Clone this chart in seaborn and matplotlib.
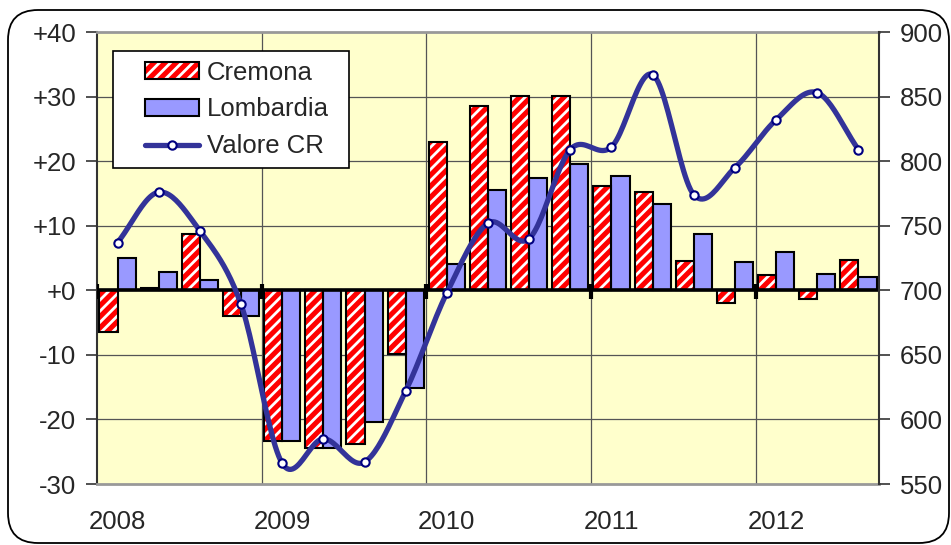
import numpy as np
import pandas as pd
import matplotlib
matplotlib.use('Agg')
import matplotlib.pyplot as plt
import seaborn as sns
from matplotlib.patches import Rectangle, FancyBboxPatch, Patch
from matplotlib.lines import Line2D
from matplotlib.legend_handler import HandlerTuple
from matplotlib.transforms import IdentityTransform

# quarterly data 2008 Q1 .. 2012 Q3
quarters = ['2008-1', '2008-2', '2008-3', '2008-4',
            '2009-1', '2009-2', '2009-3', '2009-4',
            '2010-1', '2010-2', '2010-3', '2010-4',
            '2011-1', '2011-2', '2011-3', '2011-4',
            '2012-1', '2012-2', '2012-3']
cremona = [-6.5, 0.3, 8.7, -4.0, -23.3, -24.5, -23.8, -9.9, 23.0, 28.5,
           30.1, 30.1, 16.1, 15.2, 4.6, -1.9, 2.4, -1.4, 4.7]
lombardia = [5.0, 2.8, 1.6, -4.0, -23.3, -24.5, -20.4, -15.1, 4.0, 15.5,
             17.4, 19.5, 17.7, 13.3, 8.7, 4.4, 5.9, 2.5, 2.1]
valore_cr = [737, 776, 746, 689, 566, 585, 567, 622, 698, 752,
             740, 809, 811, 867, 774, 795, 832, 853, 809]
year_labels = ['2008', '2009', '2010', '2011', '2012']
left_ticks = [-30, -20, -10, 0, 10, 20, 30, 40]
left_labels = ['-30', '-20', '-10', '+0', '+10', '+20', '+30', '+40']
right_ticks = [550, 600, 650, 700, 750, 800, 850, 900]

RED = '#FF0000'
BLUE = '#9999FF'
NAVY = '#333399'
YELLOW = '#FFFFCC'

sns.set_style('white')
plt.rcParams['font.family'] = ['Liberation Sans', 'DejaVu Sans']
plt.rcParams['hatch.color'] = 'white'
plt.rcParams['hatch.linewidth'] = 2.0
FS = 18.5
HATCH = '///'

fig = plt.figure(figsize=(9.51, 5.45), dpi=100)
ax = fig.add_axes([97 / 951, 1 - 484 / 545, 782 / 951, 452 / 545])
ax.set_facecolor(YELLOW)

df = pd.DataFrame({'quarter': quarters * 2,
                   'value': cremona + lombardia,
                   'serie': ['Cremona'] * len(quarters) + ['Lombardia'] * len(quarters)})

sns.barplot(data=df, x='quarter', y='value', hue='serie',
            palette={'Cremona': RED, 'Lombardia': BLUE}, saturation=1,
            width=0.88, edgecolor='black', linewidth=1.5, legend=False, ax=ax)

# Cremona bars: red with white diagonal stripes, black outline on top
for p in ax.containers[0]:
    p.set_edgecolor(None)
    p.set_linewidth(0)
    p.set_hatch(HATCH)
    ax.add_patch(Rectangle(p.get_xy(), p.get_width(), p.get_height(),
                           fill=False, ec='black', lw=1.5, zorder=p.get_zorder() + 0.1))

ax.set_xlim(-0.5, len(quarters) - 0.5)
ax.set_ylim(-30, 40)
ax.set_xlabel('')
ax.set_ylabel('')
ax.set_axisbelow(True)

# grid
bounds = [-0.5, 3.5, 7.5, 11.5, 15.5]
for b in bounds[1:]:
    ax.axvline(b, color='#555555', lw=0.9, zorder=0.5)
for t in left_ticks[1:-1]:
    ax.axhline(t, color='#555555', lw=0.9, zorder=0.5)

# zero axis with year ticks
ax.axhline(0, color='black', lw=2.6, zorder=4)
ax.vlines(bounds, -1.4, 1.0, color='black', lw=3, zorder=4)

ax.set_yticks(left_ticks)
ax.set_yticklabels(left_labels, fontsize=FS)
ax.set_xticks([0, 4, 8, 12, 16])
ax.set_xticklabels(year_labels, fontsize=FS)
ax.tick_params(axis='x', length=0, pad=19)
ax.tick_params(axis='y', left=True, length=8, width=1.2, color='#333333', pad=7)

for s in ['top', 'bottom']:
    ax.spines[s].set_color('#999999')
    ax.spines[s].set_linewidth(2)
ax.spines['left'].set_color('#333333')
ax.spines['left'].set_linewidth(1.5)
ax.spines['right'].set_visible(False)

# right axis with smoothed line
ax2 = ax.twinx()
ax2.set_ylim(550, 900)
ax2.set_yticks(right_ticks)
ax2.set_yticklabels([str(t) for t in right_ticks], fontsize=FS)
ax2.tick_params(axis='y', right=True, length=8, width=1.2, color='#333333', pad=7)
for s in ['top', 'bottom', 'left']:
    ax2.spines[s].set_visible(False)
ax2.spines['right'].set_color('#333333')
ax2.spines['right'].set_linewidth(1.5)

# Catmull-Rom smoothing of the line between the data points
xs = np.arange(len(valore_cr), dtype=float)
ys = np.array(valore_cr, dtype=float)
px = np.concatenate([[2 * xs[0] - xs[1]], xs, [2 * xs[-1] - xs[-2]]])
py = np.concatenate([[2 * ys[0] - ys[1]], ys, [2 * ys[-1] - ys[-2]]])
cx, cy = [], []
tt = np.linspace(0, 1, 25)
for i in range(1, len(px) - 2):
    for arr, out in ((px, cx), (py, cy)):
        p0, p1, p2, p3 = arr[i - 1], arr[i], arr[i + 1], arr[i + 2]
        seg = 0.5 * (2 * p1 + (-p0 + p2) * tt + (2 * p0 - 5 * p1 + 4 * p2 - p3) * tt ** 2
                     + (-p0 + 3 * p1 - 3 * p2 + p3) * tt ** 3)
        out.extend(seg)
ax2.plot(cx, cy, color=NAVY, lw=3.8, solid_capstyle='round', zorder=5)
sns.scatterplot(x=xs, y=ys, ax=ax2, marker='o', s=36, color='white',
                edgecolor='#000080', linewidth=1.5, zorder=6)

# legend box
x0, x1 = (113 - 97) / 782, (349 - 97) / 782
y0, y1 = (484 - 168) / 452, (484 - 51) / 452
ax2.add_patch(Rectangle((x0, y0), x1 - x0, y1 - y0, transform=ax2.transAxes,
                        fc='white', ec='black', lw=1.2, zorder=8))
cre_fill = Patch(facecolor=RED, edgecolor=None, hatch=HATCH, lw=0)
cre_edge = Patch(facecolor='none', edgecolor='black', lw=1.5)
handles = [(cre_fill, cre_edge),
           Patch(facecolor=BLUE, edgecolor='black', lw=1.5),
           Line2D([], [], color=NAVY, lw=3.8, marker='o', ms=6,
                  mfc='white', mec='#000080', mew=1.5)]
leg = ax2.legend(handles, ['Cremona', 'Lombardia', 'Valore CR'], loc='center',
                 bbox_to_anchor=((x0 + x1) / 2 + 0.008, (y0 + y1) / 2),
                 frameon=False, fontsize=FS, handlelength=2.1, handleheight=0.6,
                 handletextpad=0.3, labelspacing=0.5, borderpad=0.2,
                 handler_map={tuple: HandlerTuple(ndivide=1, pad=0)})
leg.set_zorder(9)

# rounded outer frame
fig.patches.append(FancyBboxPatch((8, 2), 941, 533,
                                  boxstyle='round,pad=0,rounding_size=30',
                                  transform=IdentityTransform(), fill=False,
                                  ec='black', lw=1.3))

fig.savefig('out.png', dpi=100)
